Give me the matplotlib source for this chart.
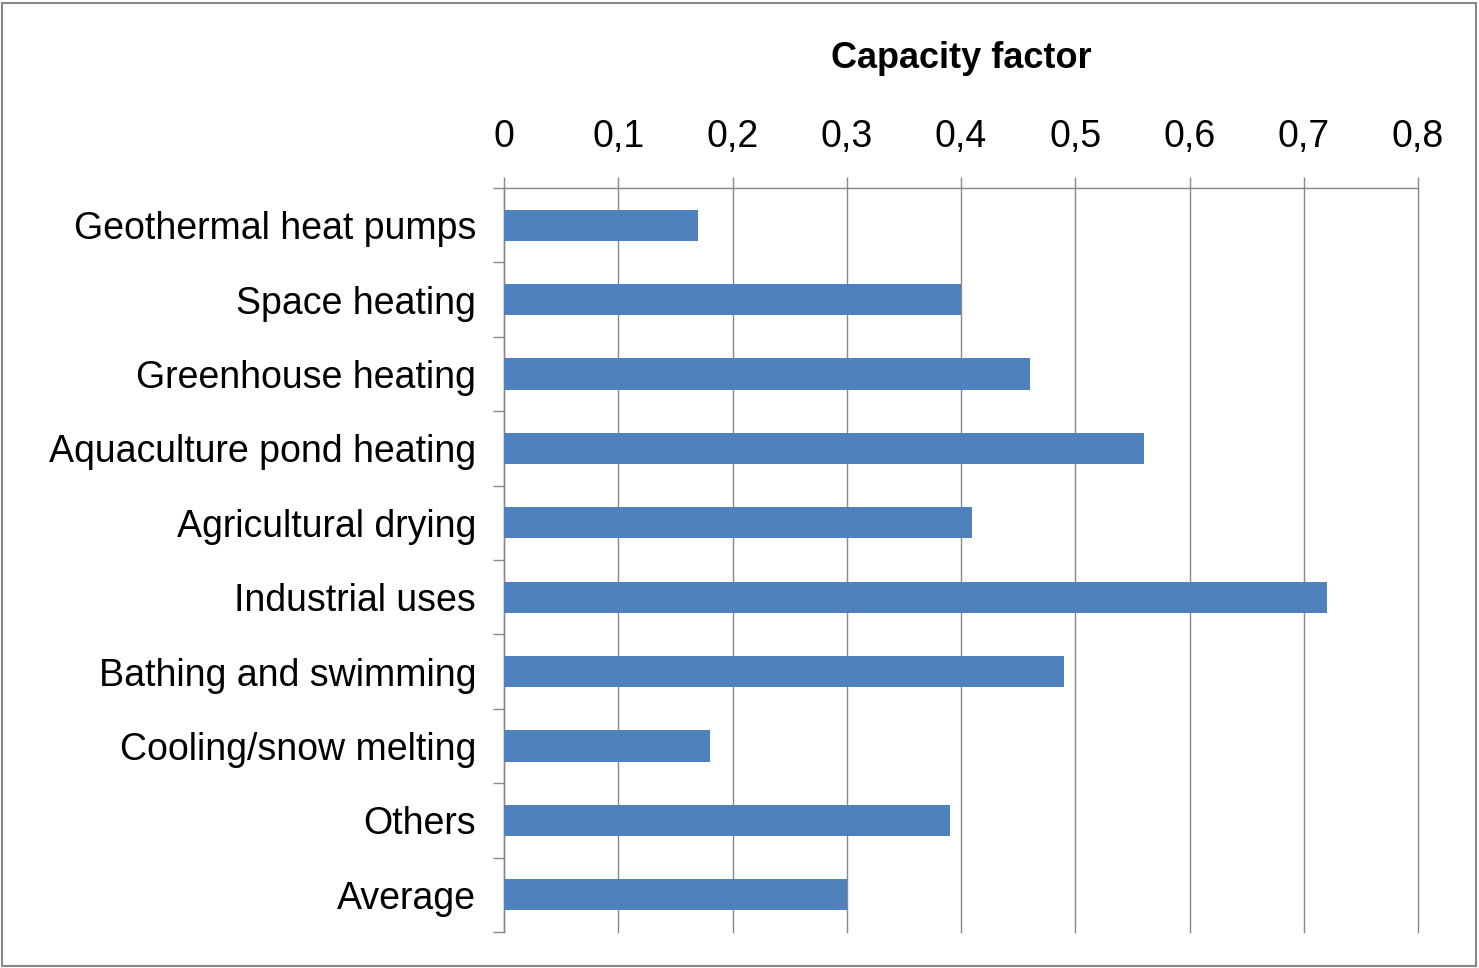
import numpy as np
import matplotlib.pyplot as plt
from matplotlib.patches import Rectangle
from matplotlib.ticker import FixedLocator

categories = ['Geothermal heat pumps', 'Space heating', 'Greenhouse heating',
              'Aquaculture pond heating', 'Agricultural drying', 'Industrial uses',
              'Bathing and swimming', 'Cooling/snow melting', 'Others', 'Average']
capacity = [0.17, 0.40, 0.46, 0.56, 0.41, 0.72, 0.49, 0.18, 0.39, 0.30]
xticks = [0, 0.1, 0.2, 0.3, 0.4, 0.5, 0.6, 0.7, 0.8]
xticklabels = ['0', '0,1', '0,2', '0,3', '0,4', '0,5', '0,6', '0,7', '0,8']

plt.rcParams['font.family'] = ['Liberation Sans', 'DejaVu Sans']
grid_col = '#888888'

fig = plt.figure(figsize=(14.79, 9.68), dpi=100)
ax = fig.add_axes([504/1479, 1-932/968, (1418-504)/1479, (932-188)/968])

y = np.arange(len(categories))
ax.barh(y, capacity, height=0.42, color='#4F81BD', zorder=3)
ax.set_ylim(len(categories)-0.5, -0.5)
ax.set_xlim(0, 0.8)

# eje x arriba, con coma decimal
ax.xaxis.tick_top()
ax.set_xticks(xticks)
ax.set_xticklabels(xticklabels, fontsize=27)
ax.tick_params(axis='x', length=8, width=1.0, color=grid_col, pad=16)
ax.grid(axis='x', color=grid_col, linewidth=1.0, zorder=0)
for gl in ax.get_xgridlines():
    gl.set_clip_on(False)

ax.set_yticks(y)
ax.set_yticklabels(categories, fontsize=27)
ax.tick_params(axis='y', which='major', length=0, pad=20)
ax.yaxis.set_minor_locator(FixedLocator(np.arange(-0.5, len(categories), 1)))
ax.tick_params(axis='y', which='minor', length=8, width=1.0, color=grid_col)

for s in ['right', 'bottom']:
    ax.spines[s].set_visible(False)
for s in ['top', 'left']:
    ax.spines[s].set_color(grid_col)
    ax.spines[s].set_linewidth(1.0)

fig.text((504+1418)/2/1479, 1-58/968, 'Capacity factor', fontsize=26,
         fontweight='bold', ha='center', va='center')

fig.patches.append(Rectangle((2/1479, 2/968), 1-5/1479, 1-5/968, transform=fig.transFigure,
                             fill=False, edgecolor='#888888', linewidth=1.5))

fig.savefig('out.png', dpi=100)
